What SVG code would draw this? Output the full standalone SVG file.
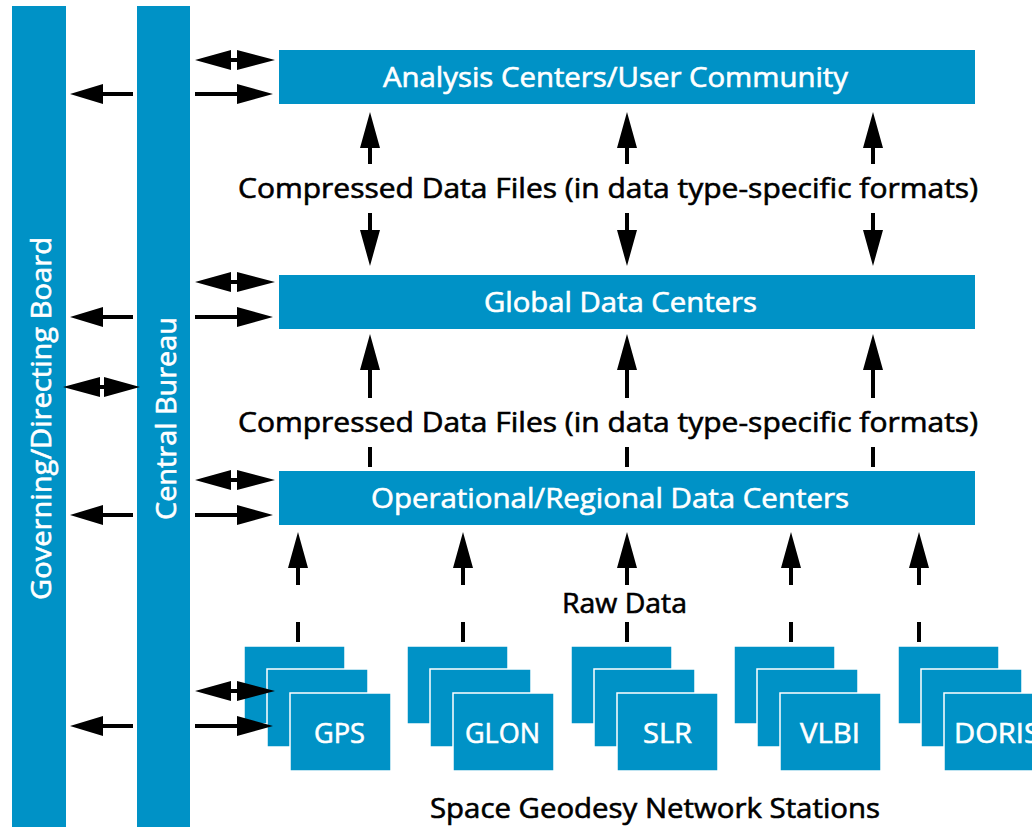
<svg xmlns="http://www.w3.org/2000/svg" width="1032" height="827" viewBox="0 0 1032 827">
<style>
.blue{fill:#0092c6}
.st{fill:#0092c6;stroke:#ffffff;stroke-width:1.5}
.wt{font-family:"Open Sans","DejaVu Sans",sans-serif;font-size:27px;fill:#ffffff;stroke:#ffffff;stroke-width:0.6}
.bt{font-family:"Open Sans","DejaVu Sans",sans-serif;font-size:27px;fill:#000000;stroke:#000000;stroke-width:0.6}
.ar{fill:#000000}
</style>
<rect width="1032" height="827" fill="#ffffff"/>
<g id="governing-board">
<rect class="blue" x="12" y="6" width="54" height="821"/>
<text class="wt" transform="translate(51,600) rotate(-90)" textLength="363" lengthAdjust="spacingAndGlyphs">Governing/Directing Board</text>
</g>
<g id="central-bureau">
<rect class="blue" x="137" y="6" width="53" height="821"/>
<text class="wt" transform="translate(176,520) rotate(-90)" textLength="203" lengthAdjust="spacingAndGlyphs">Central Bureau</text>
</g>
<g id="analysis-centers">
<rect class="blue" x="279" y="50" width="696" height="54"/>
<text class="wt" x="383" y="87" textLength="465" lengthAdjust="spacingAndGlyphs">Analysis Centers/User Community</text>
</g>
<g id="global-data-centers">
<rect class="blue" x="279" y="275" width="696" height="54"/>
<text class="wt" x="484" y="312" textLength="273" lengthAdjust="spacingAndGlyphs">Global Data Centers</text>
</g>
<g id="operational-data-centers">
<rect class="blue" x="279" y="471" width="696" height="54"/>
<text class="wt" x="371" y="508" textLength="478" lengthAdjust="spacingAndGlyphs">Operational/Regional Data Centers</text>
</g>
<g id="station-gps">
<rect class="st" x="244" y="646" width="101" height="78"/>
<rect class="st" x="267" y="669" width="101" height="78"/>
<rect class="st" x="290" y="693" width="101" height="78"/>
<text class="wt" x="314" y="743" textLength="51" lengthAdjust="spacingAndGlyphs">GPS</text>
</g>
<g id="station-glon">
<rect class="st" x="407" y="646" width="101" height="78"/>
<rect class="st" x="430" y="669" width="101" height="78"/>
<rect class="st" x="453" y="693" width="101" height="78"/>
<text class="wt" x="465" y="743" textLength="75" lengthAdjust="spacingAndGlyphs">GLON</text>
</g>
<g id="station-slr">
<rect class="st" x="571" y="646" width="101" height="78"/>
<rect class="st" x="594" y="669" width="101" height="78"/>
<rect class="st" x="617" y="693" width="101" height="78"/>
<text class="wt" x="643" y="743" textLength="49" lengthAdjust="spacingAndGlyphs">SLR</text>
</g>
<g id="station-vlbi">
<rect class="st" x="734" y="646" width="101" height="78"/>
<rect class="st" x="757" y="669" width="101" height="78"/>
<rect class="st" x="780" y="693" width="101" height="78"/>
<text class="wt" x="800" y="743" textLength="60" lengthAdjust="spacingAndGlyphs">VLBI</text>
</g>
<g id="station-doris">
<rect class="st" x="898" y="646" width="101" height="78"/>
<rect class="st" x="921" y="669" width="101" height="78"/>
<rect class="st" x="944" y="693" width="101" height="78"/>
<text class="wt" x="954" y="743" textLength="86" lengthAdjust="spacingAndGlyphs">DORIS</text>
</g>
<g id="labels">
<text class="bt" x="238" y="198" textLength="740" lengthAdjust="spacingAndGlyphs">Compressed Data Files (in data type-specific formats)</text>
<text class="bt" x="238" y="432" textLength="740" lengthAdjust="spacingAndGlyphs">Compressed Data Files (in data type-specific formats)</text>
<text class="bt" x="562" y="613" textLength="125" lengthAdjust="spacingAndGlyphs">Raw Data</text>
<text class="bt" x="430" y="818" textLength="450" lengthAdjust="spacingAndGlyphs">Space Geodesy Network Stations</text>
</g>
<g id="connectors" class="ar">
<!-- double arrows central bureau <-> boxes -->
<polygon points="195,60 231,50 231,58 237,58 237,50 275,60 237,70 237,62 231,62 231,70"/>
<polygon points="195,282 231,272 231,280 237,280 237,272 275,282 237,292 237,284 231,284 231,292"/>
<polygon points="195,480 231,470 231,478 237,478 237,470 275,480 237,490 237,482 231,482 231,490"/>
<polygon points="195,691 231,681 231,689 237,689 237,681 275,691 237,701 237,693 231,693 231,701"/>
<!-- governing <-> central -->
<polygon points="63,387 100,377 100,385 104,385 104,377 140,387 104,397 104,389 100,389 100,397"/>
<!-- single right arrows -->
<polygon points="195,92 237,92 237,84 273,94 237,104 237,96 195,96"/>
<polygon points="195,315 237,315 237,307 273,317 237,327 237,319 195,319"/>
<polygon points="195,513 237,513 237,505 273,515 237,525 237,517 195,517"/>
<polygon points="195,724 237,724 237,716 273,726 237,736 237,728 195,728"/>
<!-- left arrows to governing board -->
<polygon points="133,92 103,92 103,84 70,94 103,104 103,96 133,96"/>
<polygon points="133,315 103,315 103,307 70,317 103,327 103,319 133,319"/>
<polygon points="133,513 103,513 103,505 70,515 103,525 103,517 133,517"/>
<polygon points="133,724 103,724 103,716 70,726 103,736 103,728 133,728"/>
<!-- top region: up to analysis centers and down to global -->
<polygon points="370,112 380,148 372,148 372,164 368,164 368,148 360,148"/>
<polygon points="627,112 637,148 629,148 629,164 625,164 625,148 617,148"/>
<polygon points="873,112 883,148 875,148 875,164 871,164 871,148 863,148"/>
<polygon points="370,266 380,230 372,230 372,213 368,213 368,230 360,230"/>
<polygon points="627,266 637,230 629,230 629,213 625,213 625,230 617,230"/>
<polygon points="873,266 883,230 875,230 875,213 871,213 871,230 863,230"/>
<!-- middle region: up to global, dashes from operational -->
<polygon points="370,334 380,370 372,370 372,398 368,398 368,370 360,370"/>
<polygon points="627,334 637,370 629,370 629,398 625,398 625,370 617,370"/>
<polygon points="873,334 883,370 875,370 875,398 871,398 871,370 863,370"/>
<rect x="368" y="447" width="4" height="20"/>
<rect x="625" y="447" width="4" height="20"/>
<rect x="871" y="447" width="4" height="20"/>
<!-- bottom region: up to operational, dashes from stations -->
<polygon points="298,532 308,568 300,568 300,585 296,585 296,568 288,568"/>
<polygon points="463,532 473,568 465,568 465,585 461,585 461,568 453,568"/>
<polygon points="627,532 637,568 629,568 629,585 625,585 625,568 617,568"/>
<polygon points="791,532 801,568 793,568 793,585 789,585 789,568 781,568"/>
<polygon points="919,532 929,568 921,568 921,585 917,585 917,568 909,568"/>
<rect x="296" y="622" width="4" height="20"/>
<rect x="461" y="622" width="4" height="20"/>
<rect x="625" y="622" width="4" height="20"/>
<rect x="789" y="622" width="4" height="20"/>
<rect x="917" y="622" width="4" height="20"/>
</g>
</svg>
